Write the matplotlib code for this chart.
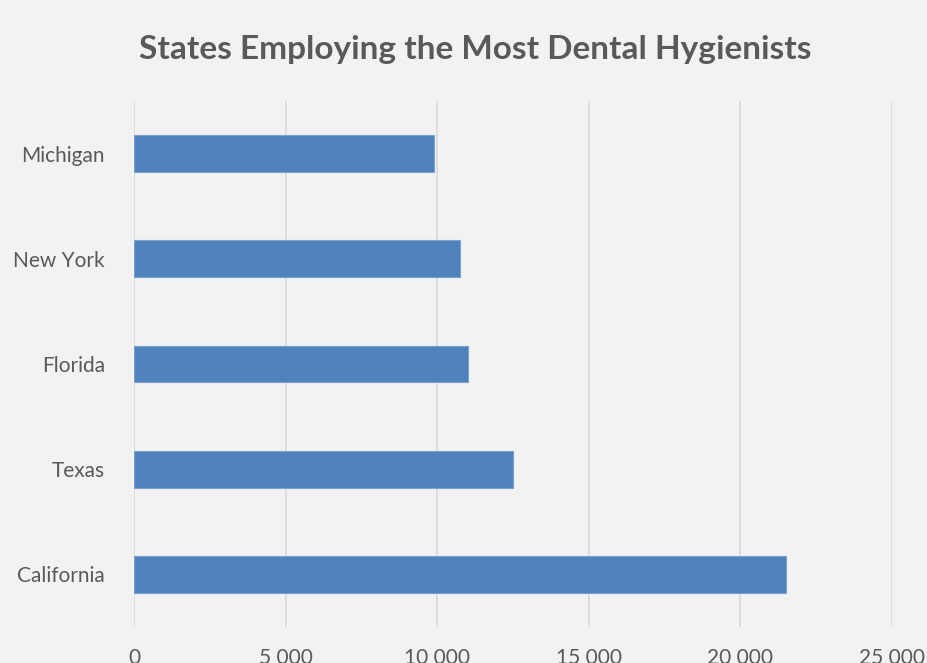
import matplotlib
matplotlib.use('Agg')
import matplotlib.pyplot as plt
import numpy as np

plt.rcParams['font.family'] = ['Lato', 'DejaVu Sans']

# 数据
states = ['California', 'Texas', 'Florida', 'New York', 'Michigan']
employees = [21500, 12500, 11000, 10760, 9900]
x_ticks = [0, 5000, 10000, 15000, 20000, 25000]

fig = plt.figure(figsize=(9.28, 6.63), dpi=100)
fig.patch.set_facecolor('#F2F2F2')
ax = fig.add_axes([134 / 928, 1 - 627 / 663, (892 - 134) / 928, (627 - 101) / 663])
ax.set_facecolor('#F2F2F2')

y = np.arange(len(states))
ax.barh(y, employees, height=0.35, color='#4F81BD', edgecolor='#7BA0CD', linewidth=0.8, zorder=3)

ax.set_xlim(0, 25000)
ax.set_ylim(-0.5, len(states) - 0.5)
ax.set_xticks(x_ticks)
ax.set_xticklabels([f'{v:,}'.replace(',', ' ') for v in x_ticks])
ax.set_yticks(y)
ax.set_yticklabels(states)
ax.tick_params(axis='both', length=0, labelsize=15, colors='#595959')
ax.tick_params(axis='x', pad=15)
ax.tick_params(axis='y', pad=21)
ax.grid(axis='x', color='#D9D9D9', linewidth=1.2, zorder=0)
for s in ax.spines.values():
    s.set_visible(False)

fig.text(475 / 928, 1 - 49 / 663, 'States Employing the Most Dental Hygienists',
         ha='center', va='center', fontsize=24, fontweight='bold', color='#595959')

fig.savefig('out.png', dpi=100, facecolor=fig.get_facecolor())
